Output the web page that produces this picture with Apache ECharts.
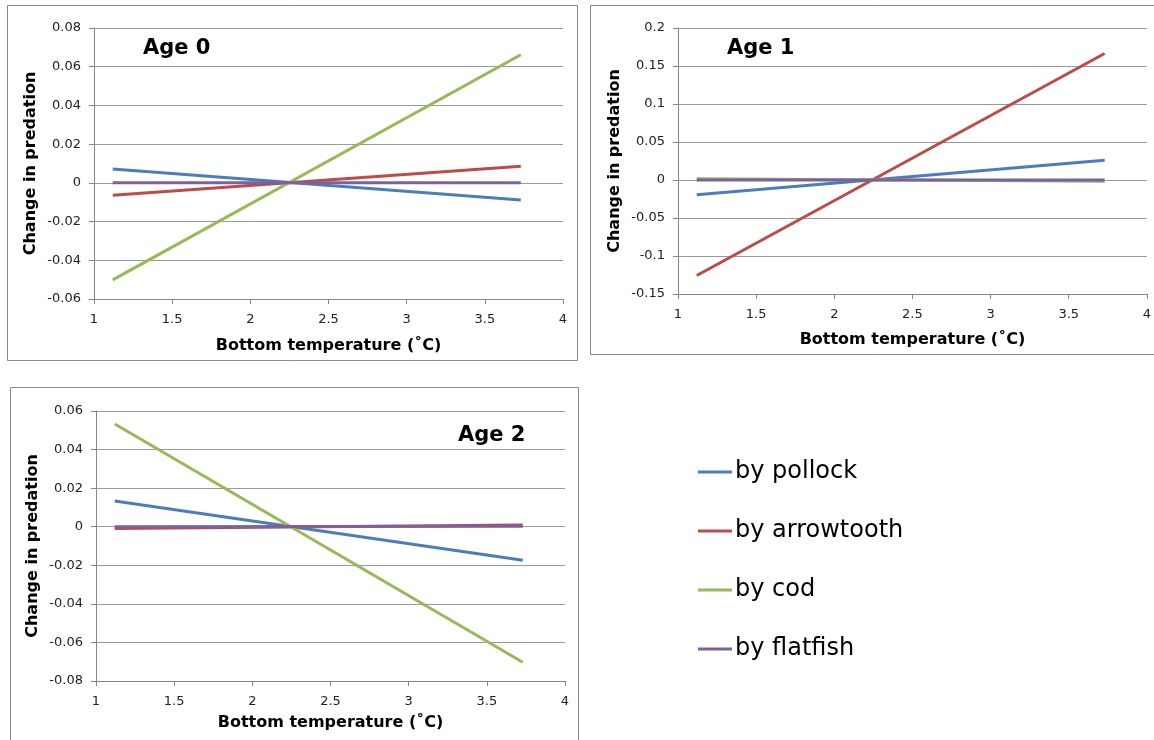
<!DOCTYPE html>
<html>
<head>
<meta charset="utf-8">
<script src="https://cdn.jsdelivr.net/npm/echarts@6/dist/echarts.min.js"></script>
<style>
  html, body { margin: 0; padding: 0; background: #fff; }
  #chart { width: 1154px; height: 740px; }
</style>
</head>
<body>
<div id="chart"></div>
<script>
// Bottom temperature at the two ends of each fitted line (°C)
const temps = [1.12, 3.73];

const predators = ['by pollock', 'by arrowtooth', 'by cod', 'by flatfish'];
const predatorColors = ['#4A7EBB', '#BE4B48', '#98B954', '#7D60A0'];
const panelTitles = ['Age 0', 'Age 1', 'Age 2'];

// Change in predation, Age 0
const age0Pollock = [0.0071, -0.0089];
const age0Arrowtooth = [-0.0064, 0.0086];
const age0Cod = [-0.0501, 0.0662];
const age0Flatfish = [0.0, 0.0];

// Change in predation, Age 1
const age1Pollock = [-0.0194, 0.0261];
const age1Arrowtooth = [-0.1257, 0.1665];
const age1Cod = [0.0015, -0.0018];
const age1Flatfish = [0.0, 0.0];

// Change in predation, Age 2
const age2Pollock = [0.0133, -0.0174];
const age2Arrowtooth = [-0.0009, 0.0009];
const age2Cod = [0.0533, -0.0703];
const age2Flatfish = [0.0, 0.0002];

// y-axis ranges per panel
const yMin = [-0.06, -0.15, -0.08];
const yMax = [0.08, 0.2, 0.06];
const yStep = [0.02, 0.05, 0.02];

const panelValues = [
  [age0Pollock, age0Arrowtooth, age0Cod, age0Flatfish],
  [age1Pollock, age1Arrowtooth, age1Cod, age1Flatfish],
  [age2Pollock, age2Arrowtooth, age2Cod, age2Flatfish]
];

const FONT = 'DejaVu Sans';
const GRID_COLOR = '#9a9a9a';
const AXIS_COLOR = '#868686';
const BORDER_COLOR = '#8a8a8a';

// plot rectangles in page pixels
const grids = [
  { left: 94, top: 28, width: 469, height: 271 },
  { left: 678, top: 28, width: 470, height: 266 },
  { left: 96, top: 411, width: 469, height: 270 }
];
const xNameGap = [39, 38, 34];

const chart = echarts.init(document.getElementById('chart'), null, { renderer: 'canvas' });

const xAxes = grids.map((g, i) => ({
  type: 'value', gridIndex: i, min: 1, max: 4, interval: 0.5,
  name: 'Bottom temperature (˚C)', nameLocation: 'middle', nameGap: xNameGap[i],
  nameTextStyle: { fontFamily: FONT, fontWeight: 'bold', fontSize: 16, color: '#000', verticalAlign: 'top' },
  axisLine: { show: true, onZero: false, lineStyle: { color: AXIS_COLOR, width: 1 } },
  axisTick: { show: true, length: 5, lineStyle: { color: AXIS_COLOR } },
  axisLabel: { fontFamily: FONT, fontSize: 13, color: '#222', margin: 14 },
  splitLine: { show: false }
}));

const yAxes = grids.map((g, i) => ({
  type: 'value', gridIndex: i, min: yMin[i], max: yMax[i], interval: yStep[i],
  name: 'Change in predation', nameLocation: 'middle', nameGap: 55,
  nameTextStyle: { fontFamily: FONT, fontWeight: 'bold', fontSize: 16, color: '#000' },
  axisLine: { show: true, onZero: false, lineStyle: { color: AXIS_COLOR, width: 1 } },
  axisTick: { show: true, length: 5, lineStyle: { color: AXIS_COLOR } },
  axisLabel: { fontFamily: FONT, fontSize: 13, color: '#222', margin: 13 },
  splitLine: { show: true, lineStyle: { color: GRID_COLOR, width: 1 } }
}));

const series = [];
panelValues.forEach((vals, i) => {
  vals.forEach((ys, j) => {
    series.push({
      type: 'line', name: predators[j], xAxisIndex: i, yAxisIndex: i,
      data: temps.map((t, k) => [t, ys[k]]),
      showSymbol: false, symbol: 'none', silent: true, z: 2 + j,
      color: predatorColors[j],
      lineStyle: { width: 3, color: predatorColors[j], cap: 'butt' }
    });
  });
});

const titlePos = [
  { left: 143, top: 38 },
  { left: 727, top: 38 },
  { left: 458, top: 425 }
];

const option = {
  animation: false,
  backgroundColor: '#fff',
  grid: grids.map(g => ({ left: g.left, top: g.top, width: g.width, height: g.height, containLabel: false })),
  xAxis: xAxes,
  yAxis: yAxes,
  title: panelTitles.map((t, i) => ({
    text: t, left: titlePos[i].left, top: titlePos[i].top, padding: 0,
    textStyle: { fontFamily: FONT, fontWeight: 'bold', fontSize: 21, color: '#000' }
  })),
  legend: {
    orient: 'vertical', left: 698, top: 458, padding: 0,
    data: predators,
    icon: 'rect', itemWidth: 34, itemHeight: 3, itemGap: 31,
    selectedMode: false,
    textStyle: { fontFamily: FONT, fontSize: 24, color: '#000', lineHeight: 28, padding: [0, 0, 0, -2] }
  },
  graphic: [
    { type: 'rect', silent: true, z: -1, shape: { x: 7.5, y: 5.5, width: 570, height: 355 },
      style: { fill: 'none', stroke: BORDER_COLOR, lineWidth: 1 } },
    { type: 'rect', silent: true, z: -1, shape: { x: 590.5, y: 5.5, width: 600, height: 349 },
      style: { fill: 'none', stroke: BORDER_COLOR, lineWidth: 1 } },
    { type: 'rect', silent: true, z: -1, shape: { x: 10.5, y: 387.5, width: 568, height: 400 },
      style: { fill: 'none', stroke: BORDER_COLOR, lineWidth: 1 } }
  ],
  series: series
};

chart.setOption(option);
</script>
</body>
</html>
